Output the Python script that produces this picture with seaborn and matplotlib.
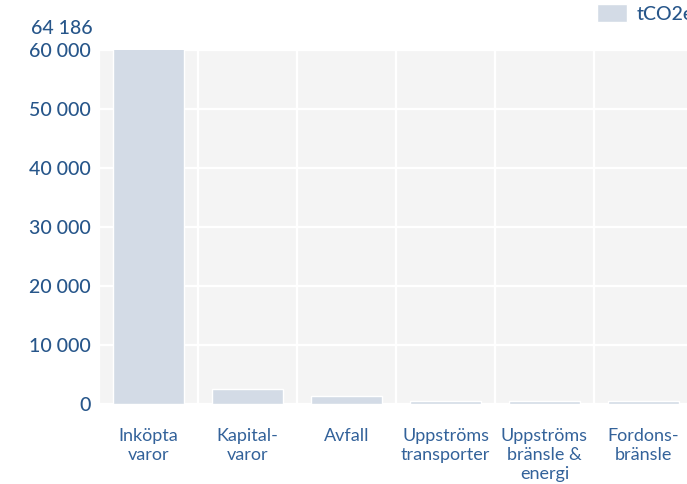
import matplotlib
matplotlib.use("Agg")
import matplotlib.pyplot as plt
import seaborn as sns
import pandas as pd
import numpy as np

# Emission categories and values (tCO2e)
categories = ["Inköpta\nvaror", "Kapital-\nvaror", "Avfall", "Uppströms\ntransporter",
              "Uppströms\nbränsle &\nenergi", "Fordons-\nbränsle"]
values = [64186, 2600, 1300, 560, 560, 560]
series_name = "tCO2e"
y_ticks = [0, 10000, 20000, 30000, 40000, 50000, 60000]
y_max = 60000

text_color = "#27568a"
bar_color = "#d3dbe6"
panel_color = "#f4f4f4"

sns.set_theme(style="white")
plt.rcParams["font.family"] = ["Lato", "DejaVu Sans"]

df = pd.DataFrame({"Kategori": categories, series_name: values})

fig = plt.figure(figsize=(6.87, 4.84), dpi=100)
W, H = 687, 484
ax = fig.add_axes([99 / W, 80 / H, 594 / W, 354 / H])
ax.set_facecolor(panel_color)

sns.barplot(data=df, x="Kategori", y=series_name, color=bar_color, width=0.71,
            saturation=1, ax=ax, label=series_name, zorder=3, legend=False)

ax.set_ylim(0, y_max)
ax.set_xlim(-0.5, len(categories) - 0.5)
ax.set_yticks(y_ticks)
ax.set_yticklabels([f"{v:,}".replace(",", " ") for v in y_ticks], fontweight="medium")
ax.set_xticks(range(len(categories)))
ax.set_xticklabels(categories, linespacing=1.25)
ax.set_xticks(np.arange(-0.5, len(categories), 1.0), minor=True)

ax.grid(axis="y", which="major", color="white", linewidth=1.6, zorder=1)
ax.grid(axis="x", which="minor", color="white", linewidth=1.6, zorder=1)
ax.grid(axis="x", which="major", visible=False)
ax.set_axisbelow(True)

for s in ax.spines.values():
    s.set_visible(False)

ax.tick_params(axis="y", length=0, pad=6, labelsize=14, labelcolor=text_color)
ax.tick_params(axis="x", which="both", length=0, pad=17, labelsize=13, labelcolor="#33629a")
ax.set_xlabel("")
ax.set_ylabel("")

# Value of the clipped bar shown above the axis
ax.text(-6 / 594, 1 + 22 / 354, f"{max(values):,}".replace(",", " "),
        transform=ax.transAxes, ha="right", va="center", fontsize=14,
        fontweight="medium", color=text_color)

# Legend in the upper right corner
handles = [ax.patches[0]]
fig.legend(handles, [series_name], loc="upper left", bbox_to_anchor=(589 / W, 1 + 4 / H),
           frameon=False, labelcolor=text_color,
           prop={"weight": "medium", "size": 14},
           handlelength=1.55, handleheight=1.1, handletextpad=0.5, borderaxespad=0)

fig.savefig("out.png", dpi=100)
